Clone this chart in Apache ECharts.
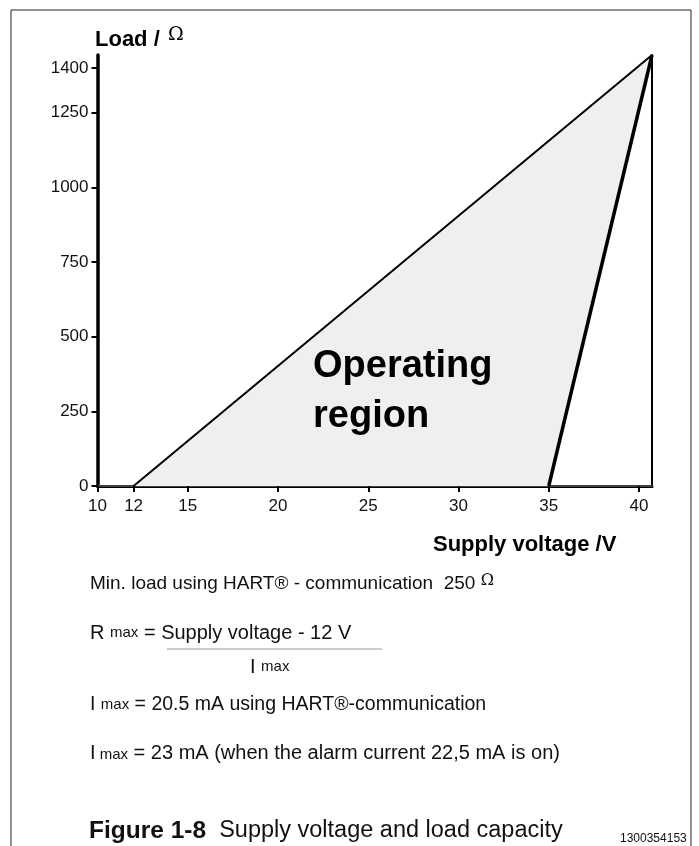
<!DOCTYPE html>
<html>
<head>
<meta charset="utf-8">
<script src="https://cdn.jsdelivr.net/npm/echarts@6/dist/echarts.min.js"></script>
<style>
    html, body { margin: 0; padding: 0; background: #fff; }
    #chart { width: 699px; height: 846px; }
</style>
</head>
<body>
<div id="chart"></div>
<script>
// 工作区域（多边形顶点）
const voltage = [12, 40.72, 35]
const load = [0, 1443, 0]
// 坐标轴刻度
const xTicks = [10, 12, 15, 20, 25, 30, 35, 40]
const yTicks = [0, 250, 500, 750, 1000, 1250, 1400]
const xMin = 10, xMax = 40.72
const yMin = 0, yMax = 1443

const FONT = '"Liberation Sans", Arial, sans-serif'

const chart = echarts.init(document.getElementById('chart'))

const leftEdge = [[voltage[0], load[0]], [voltage[1], load[1]]]
const rightEdge = [[voltage[2], load[2]], [voltage[1], load[1]]]

const sub = { fontSize: 15, fontFamily: FONT, fill: '#111' }
const txt = { fontSize: 20, fontFamily: FONT, fill: '#111' }

const option = {
    animation: false,
    backgroundColor: '#fff',
    grid: {
        left: 97.5,
        right: 47,
        top: 55,
        bottom: 360,
        containLabel: false,
        outerBoundsMode: 'none'
    },
    xAxis: [
        {
            type: 'value',
            min: xMin,
            max: xMax,
            position: 'bottom',
            axisLine: { lineStyle: { color: '#000', width: 3 } },
            axisTick: {
                customValues: xTicks,
                length: 6,
                lineStyle: { color: '#000', width: 2 }
            },
            axisLabel: {
                customValues: xTicks,
                formatter: v => String(v),
                fontSize: 17,
                fontFamily: FONT,
                color: '#111',
                margin: 12
            },
            splitLine: { show: false }
        },
        {
            type: 'value',
            min: xMin,
            max: xMax,
            position: 'top',
            axisLine: { lineStyle: { color: '#555', width: 1.5 } },
            axisTick: { show: false },
            axisLabel: { show: false },
            splitLine: { show: false }
        }
    ],
    yAxis: [
        {
            type: 'value',
            min: yMin,
            max: yMax,
            position: 'left',
            axisLine: { show: true, lineStyle: { color: '#000', width: 3.5 } },
            axisTick: {
                show: true,
                customValues: yTicks,
                length: 6,
                lineStyle: { color: '#000', width: 2 }
            },
            axisLabel: {
                customValues: yTicks,
                formatter: v => String(v),
                fontSize: 17,
                fontFamily: FONT,
                color: '#111',
                margin: 9
            },
            splitLine: { show: false }
        },
        {
            type: 'value',
            min: yMin,
            max: yMax,
            position: 'right',
            axisLine: { show: true, lineStyle: { color: '#000', width: 2 } },
            axisTick: { show: false },
            axisLabel: { show: false },
            splitLine: { show: false }
        }
    ],
    series: [
        {
            // 灰色填充区域
            type: 'custom',
            data: [[voltage[0], load[0]]],
            clip: false,
            z: 1,
            renderItem(params, api) {
                const pts = voltage.map((v, i) => api.coord([v, load[i]]))
                return {
                    type: 'polygon',
                    shape: { points: pts },
                    style: { fill: '#efefef', stroke: null }
                }
            }
        },
        {
            type: 'line',
            data: leftEdge,
            symbol: 'none',
            z: 3,
            lineStyle: { color: '#000', width: 2 }
        },
        {
            type: 'line',
            data: rightEdge,
            symbol: 'none',
            z: 3,
            lineStyle: { color: '#000', width: 3.5 }
        }
    ],
    graphic: [
        // 外框
        {
            type: 'rect',
            shape: { x: 11, y: 10, width: 680, height: 900 },
            style: { fill: null, stroke: '#222', lineWidth: 1 },
            silent: true
        },
        // 坐标轴标题
        {
            type: 'text', x: 95, y: 40,
            style: { text: 'Load /', font: 'bold 22px ' + FONT, fill: '#000', verticalAlign: 'middle' }
        },
        {
            type: 'text', x: 168, y: 35,
            style: { text: 'Ω', font: '19px "DejaVu Serif", serif', fill: '#000', verticalAlign: 'middle' }
        },
        {
            type: 'text', x: 433, y: 545,
            style: { text: 'Supply voltage /V', font: 'bold 22px ' + FONT, fill: '#000', verticalAlign: 'middle' }
        },
        // 区域文字
        {
            type: 'text', x: 313, y: 367, z: 10,
            style: { text: 'Operating', font: 'bold 38px ' + FONT, fill: '#000', verticalAlign: 'middle' }
        },
        {
            type: 'text', x: 313, y: 417, z: 10,
            style: { text: 'region', font: 'bold 38px ' + FONT, fill: '#000', verticalAlign: 'middle' }
        },
        // 说明文字
        {
            type: 'text', x: 90, y: 584,
            style: {
                text: '{a|Min. load using HART® - communication  250 }{o|Ω}',
                verticalAlign: 'middle',
                rich: {
                    a: { fontSize: 19, fontFamily: FONT, fill: '#111' },
                    o: { fontSize: 16, fontFamily: '"DejaVu Serif", serif', fill: '#111', padding: [0, 0, 6, 0] }
                }
            }
        },
        {
            type: 'text', x: 90, y: 633,
            style: {
                text: '{a|R }{s|max}{a| = Supply voltage - 12 V}',
                verticalAlign: 'middle',
                rich: { a: txt, s: sub }
            }
        },
        {
            type: 'line',
            shape: { x1: 167, y1: 649, x2: 382, y2: 649 },
            style: { stroke: '#999', lineWidth: 1.2 }
        },
        {
            type: 'text', x: 250, y: 667,
            style: {
                text: '{a|I }{s|max}',
                verticalAlign: 'middle',
                rich: { a: txt, s: sub }
            }
        },
        {
            type: 'text', x: 90, y: 705,
            style: {
                text: '{a|I }{s|max}{a| = 20.5 mA using HART®-communication}',
                verticalAlign: 'middle',
                rich: { a: { fontSize: 19.5, fontFamily: FONT, fill: '#111' }, s: sub }
            }
        },
        {
            type: 'text', x: 90, y: 753,
            style: {
                text: '{a|I}{s| max}{a| = 23 mA (when the alarm current 22,5 mA is on)}',
                verticalAlign: 'middle',
                rich: { a: txt, s: Object.assign({}, sub, { padding: [4, 0, 0, 0] }) }
            }
        },
        // 图题
        {
            type: 'text', x: 89, y: 831,
            style: {
                text: '{b|Figure 1-8}{r|  Supply voltage and load capacity}',
                verticalAlign: 'middle',
                rich: {
                    b: { fontSize: 24.5, fontWeight: 'bold', fontFamily: FONT, fill: '#111' },
                    r: { fontSize: 23.5, fontFamily: FONT, fill: '#111' }
                }
            }
        },
        {
            type: 'text', x: 620, y: 839,
            style: { text: '1300354153', font: '12px ' + FONT, fill: '#111', verticalAlign: 'middle' }
        }
    ]
}

chart.setOption(option)
</script>
</body>
</html>
